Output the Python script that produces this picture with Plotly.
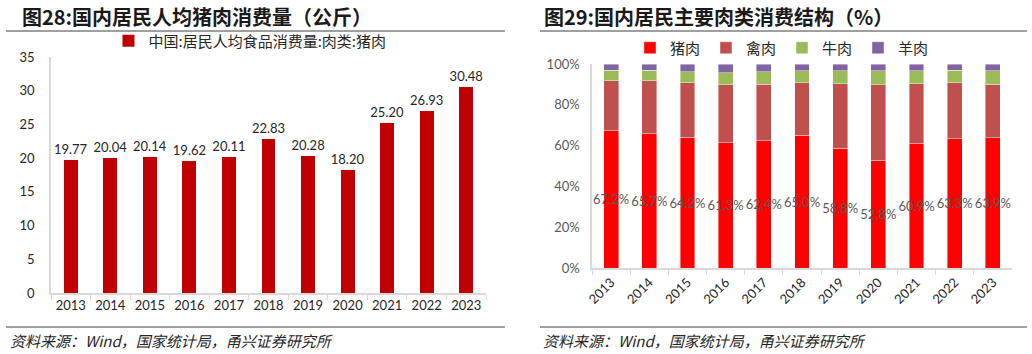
import plotly.graph_objects as go

years = ["2013", "2014", "2015", "2016", "2017", "2018", "2019", "2020", "2021", "2022", "2023"]
pork_kg = [19.77, 20.04, 20.14, 19.62, 20.11, 22.83, 20.28, 18.20, 25.20, 26.93, 30.48]

pork_pct = [67.2, 65.7, 64.2, 61.3, 62.4, 65.0, 58.8, 52.8, 60.9, 63.3, 63.9]
poultry_pct = [24.5, 26.1, 26.6, 28.6, 27.6, 25.7, 31.6, 37.1, 29.5, 27.5, 26.1]
beef_pct = [5.2, 5.1, 5.3, 5.7, 6.1, 5.9, 6.3, 6.8, 6.3, 6.1, 6.6]
mutton_pct = [3.1, 3.1, 3.9, 4.4, 3.9, 3.4, 3.3, 3.3, 3.3, 3.1, 3.4]

W, H = 1032, 354
CJK = "Noto Sans CJK SC"
NUM = "Lato"

def px(x):
    return x / W

def py(y):
    return 1 - y / H

fig = go.Figure()

# Left chart
fig.add_trace(go.Bar(
    x=years, y=pork_kg, name="中国:居民人均食品消费量:肉类:猪肉",
    marker=dict(color="#C00000", line=dict(width=0)),
    width=0.35,
    text=[f"{v:.2f}" for v in pork_kg], textposition="outside",
    textfont=dict(family=NUM, size=13, color="#262626"),
    constraintext="none", cliponaxis=False,
    xaxis="x", yaxis="y", legend="legend",
))

# Right chart
series = [("猪肉", pork_pct, "#FF0000"), ("禽肉", poultry_pct, "#C0504D"),
          ("牛肉", beef_pct, "#9BBB59"), ("羊肉", mutton_pct, "#8064A2")]
for name, vals, col in series:
    kw = {}
    if name == "猪肉":
        kw = dict(text=[f"{v:.1f}%" for v in vals], textposition="inside",
                  insidetextanchor="middle", textangle=0, constraintext="none",
                  textfont=dict(family=NUM, size=13, color="#595959"))
    fig.add_trace(go.Bar(
        x=years, y=vals, name=name,
        marker=dict(color=col, line=dict(width=0.6, color="rgba(255,255,255,0.7)")),
        width=0.39, xaxis="x2", yaxis="y2", legend="legend2", **kw,
    ))

axis_common = dict(showgrid=False, zeroline=False, linecolor="#D9D9D9", linewidth=1.5,
                   showline=True, ticks="", automargin=False)

fig.update_layout(
    width=W, height=H, margin=dict(l=0, r=0, t=0, b=0),
    paper_bgcolor="white", plot_bgcolor="white",
    barmode="stack", showlegend=True,
    font=dict(family=NUM, color="#262626"),
    xaxis=dict(domain=[px(51), px(486)], type="category", range=[-0.5, 10.5],
               tickson="boundaries", ticks="outside", ticklen=5, tickcolor="#D9D9D9",
               tickangle=0, automargin=False,
               tickfont=dict(family=NUM, size=13, color="#262626"),
               showgrid=False, zeroline=False, showline=True, linecolor="#D9D9D9", linewidth=1.5),
    yaxis=dict(domain=[py(293), py(57)], range=[0, 35], dtick=5,
               tickfont=dict(family=NUM, size=13, color="#262626"), ticklabelstandoff=12,
               **axis_common),
    xaxis2=dict(domain=[px(592), px(1012)], type="category", range=[-0.5, 10.5], anchor="y2",
                tickson="boundaries", ticks="outside", ticklen=5, tickcolor="#D9D9D9",
                tickangle=-45, automargin=False,
                tickfont=dict(family=NUM, size=13, color="#262626"),
                showgrid=False, zeroline=False, showline=True, linecolor="#D9D9D9", linewidth=1.5),
    yaxis2=dict(domain=[py(268), py(64)], range=[0, 100], dtick=20, anchor="x2",
                ticksuffix="%",
                tickfont=dict(family=NUM, size=13, color="#595959"), ticklabelstandoff=8,
                **axis_common),
    legend=dict(orientation="h", x=px(250), xanchor="center", y=py(41), yanchor="middle",
                font=dict(family=CJK, size=15, color="#262626"), itemwidth=30,
                bgcolor="rgba(0,0,0,0)"),
    legend2=dict(orientation="h", x=px(782), xanchor="center", y=py(48), yanchor="middle",
                 font=dict(family=CJK, size=15, color="#262626"), itemwidth=30,
                 traceorder="normal", entrywidth=31, entrywidthmode="pixels",
                 bgcolor="rgba(0,0,0,0)"),
)

# Titles
fig.add_annotation(text="<b>图28:国内居民人均猪肉消费量（公斤）</b>", x=px(20), y=py(16),
                   xref="paper", yref="paper", xanchor="left", yanchor="middle", showarrow=False,
                   font=dict(family=CJK, size=20, color="#1a1a1a"))
fig.add_annotation(text="<b>图29:国内居民主要肉类消费结构（%）</b>", x=px(542), y=py(16),
                   xref="paper", yref="paper", xanchor="left", yanchor="middle", showarrow=False,
                   font=dict(family=CJK, size=20, color="#1a1a1a"))
# Footnotes
for x0 in (8, 541):
    fig.add_annotation(text="<i>资料来源：Wind，国家统计局，甬兴证券研究所</i>", x=px(x0), y=py(340),
                       xref="paper", yref="paper", xanchor="left", yanchor="middle", showarrow=False,
                       font=dict(family=CJK, size=15, color="#262626"))

# Separator lines
for (x0, x1) in ((6, 505), (540, 1027)):
    for yy in (31, 327):
        fig.add_shape(type="line", xref="paper", yref="paper",
                      x0=px(x0), x1=px(x1), y0=py(yy), y1=py(yy),
                      line=dict(color="#7f7f7f", width=1.5))

fig.write_html("out.html")
